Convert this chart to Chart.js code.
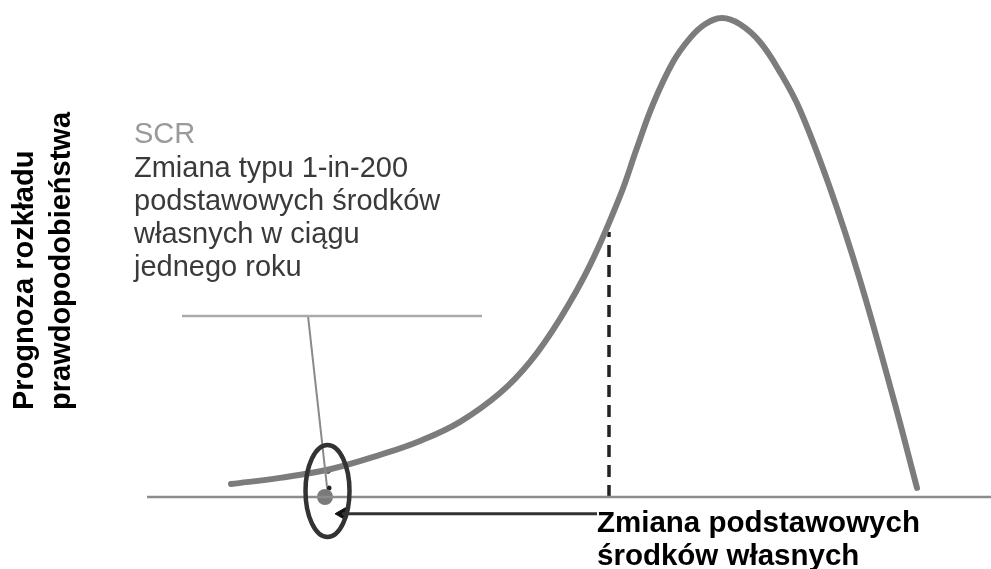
<!DOCTYPE html>
<html>
<head>
<meta charset="utf-8">
<script src="https://cdn.jsdelivr.net/npm/chart.js@4/dist/chart.umd.min.js"></script>
<style>
  html, body { margin: 0; padding: 0; background: #fff; }
  canvas { display: block; }
</style>
</head>
<body>
<canvas id="chart" width="991" height="569"></canvas>
<script>
// distribution curve (x = change in own funds, y = density)
const curveX = [23.1, 28, 33, 38, 42, 46, 50, 53, 56, 59, 62, 63.7, 65.3, 67.3, 69, 70.5, 72.2, 74, 76, 78, 80, 83, 86, 89.3, 91.7]
const curveY = [2.7, 4.0, 5.8, 8.8, 11.7, 15.7, 21.7, 28.2, 37.2, 48.4, 62.8, 72.9, 82.0, 90.8, 95.8, 98.7, 100, 98.7, 95.0, 88.7, 80.8, 64.5, 45.3, 20.9, 1.9]

const baselineX = [14.7, 99.1]
const expectedX = 60.9      // dashed marker
const expectedTop = 55.3
const labelLineX = [18.2, 48.2]
const labelLineY = 37.8
const leaderX = [30.8, 32.7]
const leaderY = [37.8, 2.1]
const arrowX = [59.7, 34.2]
const arrowY = -3.5
const scrX = 32.5            // 1-in-200 point

const titleLines = ['Prognoza rozkładu', 'prawdopodobieństwa']
const noteHead = 'SCR'
const noteLines = ['Zmiana typu 1-in-200', 'podstawowych środków', 'własnych w ciągu', 'jednego roku']
const xLabelLines = ['Zmiana podstawowych', 'środków własnych']

const pts = (xs, ys) => xs.map((x, i) => ({ x, y: Array.isArray(ys) ? ys[i] : ys }))

const drawExtras = {
    id: 'drawExtras',
    afterDatasetsDraw(chart) {
        const { ctx, scales: { x, y } } = chart
        // ellipse around the SCR point
        const cx = x.getPixelForValue(32.75), cy = y.getPixelForValue(1.25)
        const rx = x.getPixelForValue(32.75 + 2.2) - cx
        const ry = cy - y.getPixelForValue(1.25 + 9.6)
        ctx.save()
        ctx.beginPath()
        ctx.ellipse(cx, cy, rx, ry, 0, 0, Math.PI * 2)
        ctx.lineWidth = 4.5
        ctx.strokeStyle = '#333'
        ctx.stroke()
        ctx.restore()
    },
    afterDraw(chart) {
        const { ctx } = chart
        ctx.save()
        ctx.textBaseline = 'alphabetic'
        ctx.textAlign = 'left'
        ctx.font = '29px "Liberation Sans", Arial, sans-serif'
        ctx.fillStyle = '#9a9a9a'
        ctx.fillText(noteHead, 134, 143)
        ctx.fillStyle = '#3a3a3a'
        noteLines.forEach((t, i) => ctx.fillText(t, 134, 176.5 + i * 33.3))

        ctx.font = 'bold 29.5px "Liberation Sans", Arial, sans-serif'
        ctx.fillStyle = '#000'
        xLabelLines.forEach((t, i) => ctx.fillText(t, 597, 532 + i * 33))

        ctx.font = 'bold 29px "Liberation Sans", Arial, sans-serif'
        ctx.save()
        ctx.translate(0, 410)
        ctx.rotate(-Math.PI / 2)
        titleLines.forEach((t, i) => ctx.fillText(t, 0, 33 + i * 37))
        ctx.restore()
        ctx.restore()
    }
}

new Chart(document.getElementById('chart'), {
    type: 'scatter',
    data: {
        datasets: [
            {
                data: pts(baselineX, 0),
                showLine: true, borderColor: '#8c8c8c', borderWidth: 2.5, pointRadius: 0
            },
            {
                data: pts(labelLineX, labelLineY),
                showLine: true, borderColor: '#aaaaaa', borderWidth: 2.5, pointRadius: 0
            },
            {
                data: pts(leaderX, leaderY),
                showLine: true, borderColor: '#8a8a8a', borderWidth: 2, pointRadius: 0
            },
            {
                data: pts(curveX, curveY),
                showLine: true, borderColor: '#7c7c7c', borderWidth: 6, pointRadius: 0,
                tension: 0.4, borderCapStyle: 'round', borderJoinStyle: 'round'
            },
            {
                data: pts([expectedX, expectedX], [0, expectedTop]),
                showLine: true, borderColor: '#222', borderWidth: 3.5, borderDash: [12, 8], pointRadius: 0
            },
            {
                data: pts(arrowX, arrowY),
                showLine: true, borderColor: '#333', borderWidth: 3, pointRadius: 0
            },
            {
                // arrow head
                data: [{ x: arrowX[1], y: arrowY }],
                pointStyle: 'triangle', rotation: -90, pointRadius: 7,
                backgroundColor: '#111', borderColor: '#111', borderWidth: 1
            },
            {
                data: [{ x: scrX, y: 0 }],
                pointRadius: 8, backgroundColor: '#7a7a7a', borderColor: '#7a7a7a', borderWidth: 0
            },
            {
                data: [{ x: 32.8, y: 5.4 }, { x: 32.9, y: 1.9 }],
                pointRadius: 2.5, backgroundColor: '#222', borderWidth: 0
            }
        ]
    },
    options: {
        responsive: false,
        devicePixelRatio: 1,
        animation: false,
        clip: false,
        layout: { padding: 0, autoPadding: false },
        plugins: { legend: { display: false }, tooltip: { enabled: false } },
        scales: {
            x: { type: 'linear', min: 0, max: 99.1, display: false },
            y: { type: 'linear', min: -15.03, max: 103.76, display: false }
        }
    },
    plugins: [drawExtras]
})
</script>
</body>
</html>
